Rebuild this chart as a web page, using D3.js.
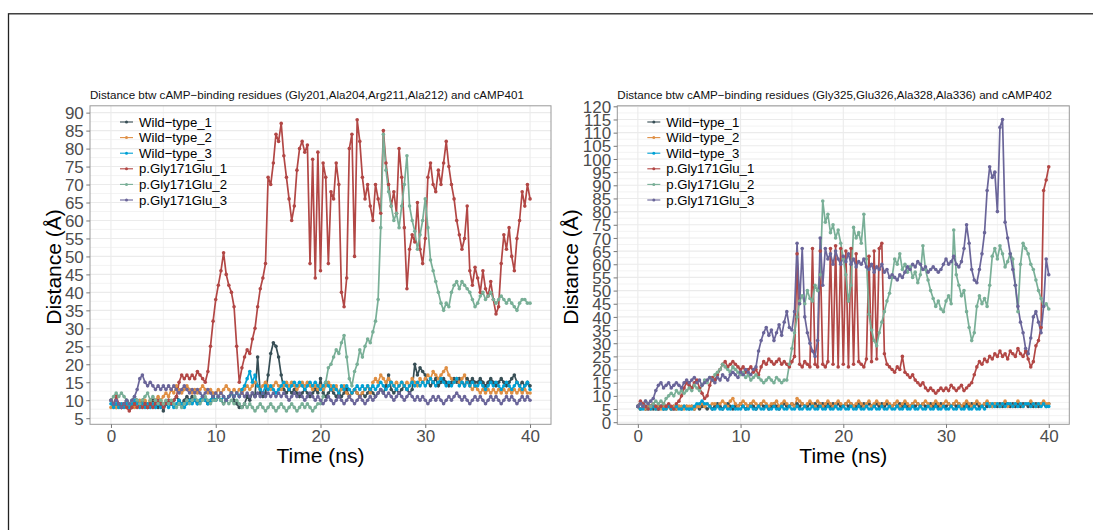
<!DOCTYPE html>
<html>
<head>
<meta charset="utf-8">
<script src="https://cdnjs.cloudflare.com/ajax/libs/d3/7.8.5/d3.min.js"></script>
<style>
  body { margin: 0; background: #fff; }
  svg { display: block; font-family: "Liberation Sans", Arial, Helvetica, sans-serif; }
</style>
</head>
<body>
<svg id="chart" width="1093" height="530"></svg>
<script>
// trajectory frames are sampled every 0.25 ns over 0..40 ns
var timeStep = 0.25;
var seriesNames = ["Wild\u2212type_1", "Wild\u2212type_2", "Wild\u2212type_3",
                   "p.Gly171Glu_1", "p.Gly171Glu_2", "p.Gly171Glu_3"];
var seriesColors = ["#374E55", "#DF8F44", "#00A1D5", "#B24745", "#79AF97", "#6A6599"];

// cAMP401 pocket distances (Angstrom)
var site1_wt1 = [10,9,8,9,8,9,10,9,8,9,10,9,10,9,8,9,10,9,8,9,
  7,9,10,9,10,11,10,9,10,11,10,11,10,9,10,11,10,9,10,11,
  10,11,10,9,10,11,12,10,9,8,8,9,11,10,12,11,22,12,11,12,
  17,23,26,25,22,17,13,12,13,12,13,12,11,12,13,12,11,12,13,12,
  16,12,11,12,13,12,11,12,11,12,13,11,12,13,12,11,12,11,12,13,
  12,11,12,13,12,14,17,13,12,13,12,13,14,13,12,13,20,17,19,18,
  17,15,14,15,16,14,15,16,15,14,15,16,15,16,15,14,16,15,16,15,
  15,16,15,14,15,16,15,14,15,16,15,14,15,16,17,15,14,15,14,15,
  14];
var site1_wt2 = [8,9,8,9,8,9,8,9,9,8,9,10,9,10,9,10,9,10,11,10,
  11,12,11,13,12,14,13,12,13,14,13,12,13,12,13,14,13,12,13,12,
  12,13,12,13,14,13,12,13,12,13,12,13,14,13,14,15,14,13,14,15,
  14,13,14,15,14,13,14,15,14,15,14,13,14,15,14,15,14,13,14,13,
  14,13,14,15,14,13,14,12,13,14,12,11,12,13,12,11,12,13,14,12,
  15,16,15,17,16,15,16,15,14,15,14,15,14,15,14,16,15,14,16,15,
  16,17,16,18,17,16,17,18,19,17,16,15,16,15,16,17,15,14,13,14,
  13,12,13,12,13,12,13,12,13,12,13,12,13,12,13,12,13,12,13,12,
  12];
var site1_wt3 = [9,8,9,8,9,8,9,8,9,10,9,8,9,8,9,8,9,8,9,8,
  8,9,8,9,8,9,10,9,8,9,10,9,10,9,10,11,10,9,10,11,
  10,11,10,11,10,11,12,11,12,11,13,14,16,18,15,17,14,13,12,14,
  13,14,13,12,13,14,15,14,13,14,15,14,15,14,13,14,15,14,15,14,
  13,14,15,14,13,14,13,12,14,13,14,13,12,13,14,13,14,13,14,13,
  14,13,14,15,14,13,14,15,14,13,14,15,14,13,14,15,14,15,14,15,
  14,15,16,15,14,15,16,15,14,15,14,15,16,14,15,14,15,14,15,14,
  14,15,14,13,14,15,14,15,14,13,14,15,14,13,14,15,14,13,14,15,
  13];
var site1_mut1 = [10,9,11,9,8,9,8,7,8,9,8,9,8,9,8,9,8,9,10,9,
  8,9,10,9,10,11,15,17,16,17,16,17,16,18,17,16,15,18,25,32,
  38,42,46,51,45,42,40,36,25,15,19,22,24,23,27,30,36,41,44,48,
  72,70,76,84,82,87,78,72,66,60,64,74,80,82,79,81,48,77,44,79,
  46,76,72,48,68,66,76,70,40,36,44,80,84,50,88,82,72,66,70,64,
  60,70,66,62,85,76,70,64,68,62,80,72,58,41,52,56,54,65,52,48,
  55,72,76,70,68,74,70,76,82,75,70,66,60,56,52,55,64,46,42,47,
  44,40,46,41,39,43,38,34,36,48,56,52,58,50,46,55,60,68,64,70,
  66];
var site1_mut2 = [10,11,12,11,12,11,10,9,10,11,10,9,10,11,12,10,11,10,9,10,
  9,10,9,10,9,8,9,8,9,10,9,10,11,10,9,10,11,10,9,10,
  10,11,10,9,10,9,10,9,10,9,8,9,8,9,8,7,8,9,8,7,
  8,9,8,7,8,9,8,7,8,9,8,7,8,9,8,9,8,7,8,9,
  9,11,15,19,20,22,24,23,26,28,22,16,14,18,20,24,22,25,27,26,
  29,32,38,58,84,74,68,64,60,62,58,64,70,78,64,60,57,52,56,60,
  66,58,49,46,43,40,37,35,37,36,40,42,43,41,43,42,41,40,38,36,
  37,39,40,38,39,40,38,37,38,39,38,37,38,37,36,35,37,38,38,37,
  37];
var site1_mut3 = [10,9,10,9,8,9,10,9,10,11,13,16,17,15,14,15,14,13,14,13,
  14,13,14,13,14,13,12,13,14,13,12,13,12,13,12,11,12,13,12,11,
  12,11,12,11,10,11,12,11,12,11,12,11,12,11,12,11,12,11,12,11,
  12,11,12,11,12,11,12,11,10,11,12,11,12,11,10,11,12,11,10,11,
  10,9,10,11,10,9,10,11,10,9,10,11,10,9,10,11,10,9,10,11,
  10,11,12,13,12,11,12,11,10,11,12,11,10,11,12,11,10,11,10,11,
  10,9,10,11,10,11,10,9,10,11,10,11,12,11,10,11,10,9,10,11,
  10,11,10,9,10,11,10,11,10,9,10,11,10,11,10,9,10,11,10,11,
  10];

// cAMP402 pocket distances (Angstrom)
var site2_wt1 = [6,5,6,5,6,6,5,6,5,6,5,6,6,5,6,5,6,5,6,6,
  5,6,5,6,5,6,6,5,6,5,6,7,6,5,6,7,6,5,6,6,
  7,6,5,6,7,6,5,6,7,6,6,5,6,7,6,5,6,7,6,6,
  7,6,7,6,7,6,6,7,6,7,6,7,7,6,7,6,7,6,7,6,
  6,7,6,7,6,6,7,6,7,6,7,6,6,7,6,7,6,7,6,6,
  7,6,7,6,7,6,6,7,6,7,6,7,6,6,7,6,7,6,7,6,
  6,7,6,7,6,7,6,6,7,6,7,6,7,6,6,7,6,7,6,7,
  6,7,6,7,7,6,7,6,7,6,7,7,6,7,6,7,6,7,7,6,
  7];
var site2_wt2 = [6,5,6,5,6,5,6,5,6,5,6,5,6,5,6,5,6,6,5,6,
  6,6,5,6,6,7,6,7,6,7,7,6,7,8,7,6,8,9,7,6,
  7,8,7,6,7,8,7,6,7,8,7,6,7,7,8,6,7,8,7,6,
  7,6,9,8,7,6,7,8,7,6,8,7,6,7,8,7,6,7,8,7,
  6,7,8,7,6,7,8,7,6,7,8,6,7,8,7,6,7,8,7,6,
  7,8,6,7,8,7,6,7,8,7,6,7,8,7,6,7,8,7,6,7,
  8,7,6,7,8,7,6,7,8,7,6,7,8,7,6,7,8,7,6,7,
  7,6,7,8,6,7,6,7,8,7,6,7,7,8,7,6,7,7,8,7,
  7];
var site2_wt3 = [6,5,5,6,5,5,6,5,5,6,5,5,6,5,5,6,5,5,6,5,
  5,5,6,7,7,8,7,7,6,5,5,6,5,5,6,5,5,6,5,5,
  5,6,5,5,6,5,5,6,5,5,6,5,5,6,5,5,6,5,5,6,
  5,5,6,5,5,6,5,5,6,5,5,6,5,5,6,5,5,6,5,5,
  6,5,5,6,5,5,6,5,5,6,5,5,6,5,5,6,5,5,6,5,
  5,6,5,5,6,5,5,6,5,5,6,5,5,6,5,5,6,5,5,6,
  5,5,6,5,5,6,5,5,6,5,5,6,5,5,6,5,7,6,7,6,
  7,6,7,6,7,7,6,7,6,7,6,7,7,6,7,6,7,6,7,6,
  6];
var site2_mut1 = [6,8,7,6,5,6,7,6,5,6,7,6,7,6,5,7,8,10,13,15,
  14,13,15,16,13,11,9,10,14,17,16,18,20,22,23,21,22,23,22,21,
  20,21,19,20,21,19,20,18,21,23,22,24,23,22,23,24,22,23,22,21,
  23,25,64,22,21,23,22,21,66,22,21,65,22,21,23,66,22,67,21,66,
  22,65,21,66,22,64,23,22,21,24,63,23,65,24,66,68,26,22,21,20,
  19,21,20,25,19,18,17,18,16,15,14,15,13,12,13,12,11,12,13,12,
  13,12,14,13,12,13,14,12,13,14,15,18,21,23,22,24,23,25,24,26,
  25,27,25,26,24,27,26,25,28,26,25,27,24,21,23,29,31,36,88,92,
  97];
var site2_mut2 = [6,7,6,8,7,6,7,8,7,8,7,9,10,11,10,12,11,12,11,12,
  13,12,14,13,12,14,16,15,17,16,18,19,20,22,21,20,19,21,20,19,
  18,19,17,18,16,17,18,17,16,15,16,17,16,15,17,16,15,16,16,22,
  28,34,40,46,48,45,50,47,46,52,50,56,84,76,79,72,75,70,73,68,
  62,56,46,52,74,70,72,68,79,62,41,35,31,29,34,38,42,46,49,55,
  62,60,64,58,60,57,59,55,57,53,56,67,58,54,50,47,44,46,43,42,
  46,48,45,73,56,52,48,50,42,36,31,34,44,48,45,47,44,52,63,66,
  62,67,64,59,61,64,62,52,42,60,68,66,64,60,58,54,50,47,44,45,
  43];
var site2_mut3 = [6,7,6,8,7,8,9,12,14,15,13,14,15,13,14,15,14,13,15,16,
  15,16,17,15,16,14,15,16,17,16,15,17,16,18,17,16,18,19,18,17,
  19,18,20,19,18,20,21,27,31,34,36,33,35,31,34,37,33,38,42,36,
  35,42,68,45,66,40,34,30,27,25,31,70,52,66,62,64,60,65,62,60,
  63,61,64,60,62,59,61,60,62,59,58,60,57,59,58,60,57,58,55,56,
  55,54,56,55,57,59,58,60,59,61,60,58,59,57,58,59,58,57,58,60,
  62,60,61,63,60,59,61,66,75,68,58,54,53,58,64,72,88,97,93,95,
  80,112,115,76,70,64,58,52,44,38,34,28,26,32,40,42,38,34,44,62,
  56];

var xTicks = [0, 10, 20, 30, 40];
var xMinor = [5, 15, 25, 35];

var panels = [
  { title: "Distance btw cAMP\u2212binding residues (Gly201,Ala204,Arg211,Ala212) and cAMP401",
    series: [site1_wt1, site1_wt2, site1_wt3, site1_mut1, site1_mut2, site1_mut3],
    left: 90, right: 551, yDomain: [3.3, 91.9], yMax: 90, yTitleX: 61 },
  { title: "Distance btw cAMP\u2212binding residues (Gly325,Glu326,Ala328,Ala336) and cAMP402",
    series: [site2_wt1, site2_wt2, site2_wt3, site2_mut1, site2_mut2, site2_mut3],
    left: 617.3, right: 1069.3, yDomain: [-0.8, 120.2], yMax: 120, yTitleX: 578 }
];

var svg = d3.select("#chart");
var panelTop = 105.8, panelBottom = 424.3;

// outer figure frame (only its top and left edges fall inside the page)
svg.append("rect")
  .attr("x", 8.5).attr("y", 13.8)
  .attr("width", 1200).attr("height", 700)
  .attr("fill", "none").attr("stroke", "#222").attr("stroke-width", 1.3);

panels.forEach(function(p){
  var x = d3.scaleLinear().domain([-2, 42]).range([p.left, p.right]);
  var y = d3.scaleLinear().domain(p.yDomain).range([panelBottom, panelTop]);
  var yTicks = d3.range(0, p.yMax + 1, 5).filter(function(v){ return v >= p.yDomain[0]; });
  var yMinor = d3.range(2.5, p.yMax, 5).filter(function(v){ return v >= p.yDomain[0]; });
  var g = svg.append("g");

  g.append("rect").attr("x", p.left).attr("y", panelTop)
    .attr("width", p.right - p.left).attr("height", panelBottom - panelTop).attr("fill", "#fff");

  // grid
  g.selectAll(".ymin").data(yMinor).enter().append("line")
    .attr("x1", p.left).attr("x2", p.right).attr("y1", y).attr("y2", y)
    .attr("stroke", "#EBEBEB").attr("stroke-width", 0.6);
  g.selectAll(".xmin").data(xMinor).enter().append("line")
    .attr("y1", panelTop).attr("y2", panelBottom).attr("x1", x).attr("x2", x)
    .attr("stroke", "#EBEBEB").attr("stroke-width", 0.6);
  g.selectAll(".ymaj").data(yTicks).enter().append("line")
    .attr("x1", p.left).attr("x2", p.right).attr("y1", y).attr("y2", y)
    .attr("stroke", "#EBEBEB").attr("stroke-width", 1.1);
  g.selectAll(".xmaj").data(xTicks).enter().append("line")
    .attr("y1", panelTop).attr("y2", panelBottom).attr("x1", x).attr("x2", x)
    .attr("stroke", "#EBEBEB").attr("stroke-width", 1.1);

  // traces: all lines first, then the frame points on top
  var line = d3.line()
    .x(function(d, i){ return x(i * timeStep); })
    .y(function(d){ return y(d); });
  p.series.forEach(function(s, k){
    g.append("path").datum(s).attr("d", line)
      .attr("fill", "none").attr("stroke", seriesColors[k])
      .attr("stroke-width", 1.7).attr("stroke-linejoin", "round");
  });
  p.series.forEach(function(s, k){
    g.append("g").selectAll("circle").data(s).enter().append("circle")
      .attr("cx", function(d, i){ return x(i * timeStep); })
      .attr("cy", function(d){ return y(d); })
      .attr("r", 1.8).attr("fill", seriesColors[k]);
  });

  // panel border
  g.append("rect").attr("x", p.left).attr("y", panelTop)
    .attr("width", p.right - p.left).attr("height", panelBottom - panelTop)
    .attr("fill", "none").attr("stroke", "#999").attr("stroke-width", 1);

  // axes
  var ya = g.append("g").attr("transform", "translate(" + p.left + ",0)")
    .call(d3.axisLeft(y).tickValues(yTicks).tickSize(3.7).tickPadding(2.5));
  var xa = g.append("g").attr("transform", "translate(0," + panelBottom + ")")
    .call(d3.axisBottom(x).tickValues(xTicks).tickSize(3.7).tickPadding(2));
  [ya, xa].forEach(function(a){
    a.select(".domain").remove();
    a.selectAll(".tick line").attr("stroke", "#777");
    a.selectAll(".tick text").attr("fill", "#4D4D4D")
      .style("font-size", "17px").style("font-family", "Liberation Sans, Arial, sans-serif");
  });
  ya.selectAll(".tick text").attr("dy", "0.36em");

  g.append("text").attr("x", p.left).attr("y", 98.5)
    .style("font-size", "11.6px").attr("fill", "#111").text(p.title);

  g.append("text").attr("x", (p.left + p.right) / 2).attr("y", 463)
    .attr("text-anchor", "middle").style("font-size", "21px").attr("fill", "#000")
    .text("Time (ns)");

  g.append("text").attr("transform", "translate(" + p.yTitleX + ",267) rotate(-90)")
    .attr("text-anchor", "middle").style("font-size", "21px").attr("fill", "#000")
    .text("Distance (\u00C5)");

  // legend inside the panel
  var lg = g.append("g");
  seriesNames.forEach(function(name, k){
    var ly = 122 + k * 15.6;
    lg.append("line").attr("x1", p.left + 30).attr("x2", p.left + 43)
      .attr("y1", ly).attr("y2", ly)
      .attr("stroke", seriesColors[k]).attr("stroke-width", 1.1);
    lg.append("circle").attr("cx", p.left + 36.5).attr("cy", ly).attr("r", 1.5)
      .attr("fill", seriesColors[k]);
    lg.append("text").attr("x", p.left + 49).attr("y", ly).attr("dy", "0.35em")
      .style("font-size", "13.2px").attr("fill", "#000").text(name);
  });
});
</script>
</body>
</html>
